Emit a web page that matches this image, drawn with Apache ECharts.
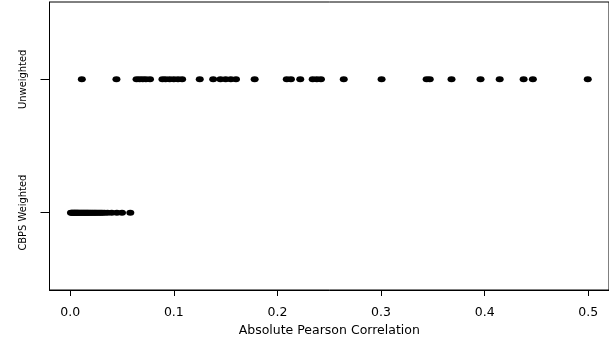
<!DOCTYPE html>
<html>
<head>
<meta charset="utf-8">
<script src="https://cdn.jsdelivr.net/npm/echarts@6/dist/echarts.min.js"></script>
<style>html,body{margin:0;padding:0;background:#fff;}#c{width:609px;height:343px;}</style>
</head>
<body>
<div id="c"></div>
<script>
var groupNames = ['CBPS Weighted', 'Unweighted'];
var groupPositions = [1, 2];
var xTicks = [0, 0.1, 0.2, 0.3, 0.4, 0.5];
var unweighted = [0.0112, 0.0446, 0.064, 0.067, 0.070, 0.073, 0.077, 0.089, 0.092, 0.096, 0.100, 0.104, 0.108, 0.125, 0.138, 0.145, 0.150, 0.155, 0.160, 0.178, 0.209, 0.213, 0.222, 0.234, 0.238, 0.242, 0.264, 0.3005, 0.344, 0.347, 0.368, 0.396, 0.4145, 0.4376, 0.4465, 0.4995];
var cbpsWeighted = [0.0007, 0.0015, 0.0022, 0.003, 0.0038, 0.0045, 0.0052, 0.006, 0.0068, 0.0075, 0.0085, 0.0095, 0.0105, 0.0115, 0.0125, 0.0135, 0.0145, 0.0155, 0.0165, 0.0175, 0.0188, 0.02, 0.0212, 0.0225, 0.0238, 0.025, 0.0265, 0.028, 0.0295, 0.031, 0.033, 0.036, 0.040, 0.045, 0.050, 0.058];

var chart = echarts.init(document.getElementById('c'), null, {renderer: 'canvas'});
function pts(arr, yv) { return arr.map(function (v) { return [v, yv]; }); }
chart.setOption({
  animation: false,
  grid: {left: 49.5, top: 2, width: 567, height: 288, show: true, borderColor: '#000', borderWidth: 1, backgroundColor: 'transparent'},
  xAxis: {
    type: 'value', min: -0.02, max: 0.52,
    name: 'Absolute Pearson Correlation', nameLocation: 'middle', nameGap: 30,
    nameTextStyle: {fontFamily: 'DejaVu Sans', fontSize: 12.5, color: '#000'},
    axisLine: {show: true, onZero: false, lineStyle: {color: '#000', width: 1}},
    axisTick: {show: true, length: 6, lineStyle: {color: '#000'}, customValues: xTicks},
    axisLabel: {margin: 16, fontFamily: 'DejaVu Sans', fontSize: 12.5, color: '#000', customValues: xTicks,
      formatter: function (v) { return v.toFixed(1); }},
    splitLine: {show: false}
  },
  yAxis: {
    type: 'value', min: 0.42, max: 2.58,
    axisLine: {show: true, onZero: false, lineStyle: {color: '#000', width: 1}},
    axisTick: {show: true, length: 9, lineStyle: {color: '#000'}, customValues: groupPositions},
    axisLabel: {rotate: 90, margin: 21, fontFamily: 'DejaVu Sans Condensed, Liberation Sans, sans-serif', fontSize: 11, color: '#000',
      customValues: groupPositions,
      formatter: function (v) { var i = groupPositions.indexOf(v); return i >= 0 ? groupNames[i] : ''; }},
    splitLine: {show: false}
  },
  series: [
    {type: 'scatter', data: pts(unweighted, groupPositions[1]), symbol: 'circle', symbolSize: [8, 6], itemStyle: {color: '#000', opacity: 1}},
    {type: 'scatter', data: pts(cbpsWeighted, groupPositions[0]), symbol: 'circle', symbolSize: [8, 6], itemStyle: {color: '#000', opacity: 1}}
  ]
});
</script>
</body>
</html>
